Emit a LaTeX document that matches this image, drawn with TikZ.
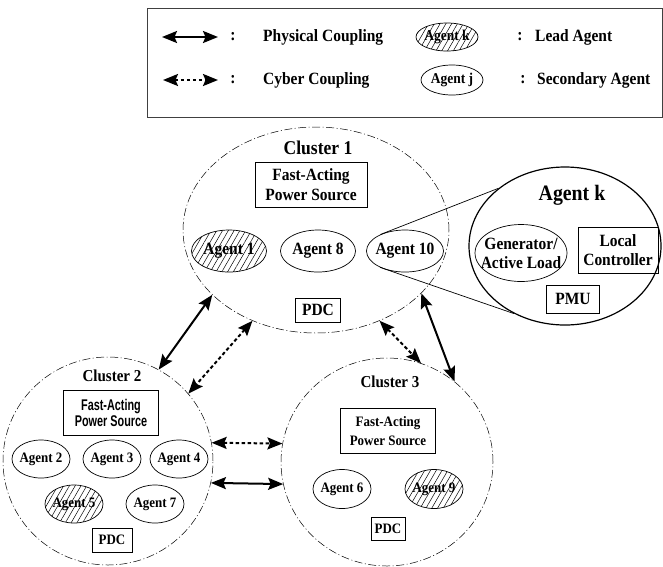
\documentclass[tikz,border=0pt]{standalone}
\usepackage{fontspec}
\setmainfont{Liberation Serif}[FakeStretch=0.9]
\newfontfamily\arialfont{Liberation Sans}[FakeStretch=0.7]
\usepackage{tikz}
\usetikzlibrary{shapes.geometric,patterns.meta,arrows.meta}
\newcommand{\bigtxt}{\fontsize{17.2}{20}\selectfont\bfseries}
\newcommand{\smalltxt}{\fontsize{14.4}{19}\selectfont\bfseries}
\newcommand{\legtxt}{\fontsize{15}{16}\selectfont\bfseries}
\tikzset{hatched/.style = {pattern={Lines[angle=60,distance=5pt,line width=0.5pt]}}}

\begin{document}
\begin{tikzpicture}[x=1pt,y=-1pt,
  cluster/.style={ellipse,draw,line width=0.5pt,dash pattern=on 8pt off 2.5pt on 1pt off 2.5pt,inner sep=0pt},
  agent/.style={ellipse,draw,line width=0.7pt,inner xsep=-4pt,inner ysep=0pt,minimum width=75pt,minimum height=42pt,font=\bigtxt},
  smallagent/.style={agent,minimum width=58pt,minimum height=38pt,font=\smalltxt},
  box/.style={draw,line width=0.7pt,inner sep=0pt,align=center},
  phys/.style={line width=2pt,{Stealth[length=15pt,width=12pt,inset=2.5pt]}-{Stealth[length=15pt,width=12pt,inset=2.5pt]}},
  cyber/.style={phys,dash pattern=on 3.5pt off 2.5pt}]
  \useasboundingbox (0,0) rectangle (663,566);

  % legend
  \draw[line width=1pt,black!75] (147,8) rectangle (662,117);
  \coordinate (p1) at (162,37);
  \coordinate (p2) at (218,37);
  \coordinate (q1) at (163,80);
  \coordinate (q2) at (218,80);
  \path[phys] (p1) edge (p2);
  \path[cyber] (q1) edge (q2);
  \node[font=\bigtxt] at (233,37) {:};
  \node[font=\bigtxt] at (233,80) {:};
  \node[font=\bigtxt,anchor=west,inner sep=0pt] at (263,37) {Physical Coupling};
  \node[font=\bigtxt,anchor=west,inner sep=0pt] at (263,80) {Cyber Coupling};
  \node[agent,hatched,minimum width=62pt,minimum height=28pt,font=\legtxt] (legk) at (447,37) {Agent k};
  \node[agent,minimum width=62pt,minimum height=30pt,font=\legtxt] (legj) at (452,80) {Agent j};
  \node[font=\bigtxt] at (520,37) {:};
  \node[font=\bigtxt] at (523,80) {:};
  \node[font=\bigtxt,anchor=west,inner sep=0pt] at (535,37) {Lead Agent};
  \node[font=\bigtxt,anchor=west,inner sep=0pt] at (537,80) {Secondary Agent};

  % cluster 1
  \node[cluster,minimum width=266pt,minimum height=206pt] (c1) at (316,230) {};
  \node[font=\fontsize{19.5}{22}\selectfont\bfseries] at (318,148) {Cluster 1};
  \node[box,font=\bigtxt,minimum width=112pt,minimum height=45pt] (fa1) at (311,185) {Fast-Acting\\Power Source};
  \node[agent,hatched] (a1) at (229,251) {Agent 1};
  \node[agent] (a8) at (318,251) {Agent 8};
  \node[agent,minimum width=77pt] (a10) at (405,251) {Agent 10};
  \node[box,font=\bigtxt,minimum width=45pt,minimum height=24pt] (pdc1) at (318,310) {PDC};

  % agent k detail
  \node[ellipse,draw,line width=1.2pt,inner sep=0pt,minimum width=192pt,minimum height=158pt] (ak) at (565,246) {};
  \node[font=\fontsize{22}{24}\selectfont\bfseries] at (572,195) {Agent k};
  \node[agent,inner xsep=-12pt,minimum width=92pt,minimum height=57pt,align=center,font=\fontsize{17.2}{19}\selectfont\bfseries] (gen) at (521,253) {Generator/\\Active Load};
  \node[box,font=\fontsize{17.2}{19}\selectfont\bfseries,minimum width=80pt,minimum height=46pt] (lc) at (618,250) {Local\\Controller};
  \node[box,font=\bigtxt,minimum width=53pt,minimum height=28pt] (pmu) at (573,299) {PMU};
  \draw[line width=0.7pt] (a10.146) -- (ak.139);
  \draw[line width=0.7pt] (a10.213) -- (ak.233);

  % cluster 2
  \node[cluster,minimum width=210pt,minimum height=208pt] (c2) at (108,461) {};
  \node[font=\fontsize{16.7}{18}\selectfont\bfseries] at (112,376) {Cluster 2};
  \node[box,font=\fontsize{15.5}{16}\selectfont\bfseries\arialfont,minimum width=95pt,minimum height=45pt] (fa2) at (111,413) {Fast-Acting\\Power Source};
  \node[smallagent] (a2) at (41,459) {Agent 2};
  \node[smallagent] (a3) at (112,459) {Agent 3};
  \node[smallagent] (a4) at (179,459) {Agent 4};
  \node[smallagent,hatched] (a5) at (74,504) {Agent 5};
  \node[smallagent] (a7) at (155,504) {Agent 7};
  \node[box,font=\smalltxt,minimum width=40pt,minimum height=24pt] (pdc2) at (112,540) {PDC};

  % cluster 3
  \node[cluster,minimum width=212pt,minimum height=208pt] (c3) at (387,462) {};
  \node[font=\fontsize{16.7}{18}\selectfont\bfseries] at (390,382) {Cluster 3};
  \node[box,font=\smalltxt,minimum width=95pt,minimum height=45pt] (fa3) at (388,431) {Fast-Acting\\Power Source};
  \node[smallagent,minimum height=39pt] (a6) at (342,489) {Agent 6};
  \node[smallagent,minimum height=39pt,hatched] (a9) at (434,489) {Agent 9};
  \node[box,font=\smalltxt,minimum width=34pt,minimum height=23pt] (pdc3) at (388,529) {PDC};

  % couplings
  \path[phys] (c1.212) edge (c2.61);
  \path[cyber] (c1.235) edge (c2.40);
  \path[phys] (c1.-31) edge (c3.50);
  \path[cyber] (c1.-55) edge (c3.71);
  \path[cyber] (c2.10) edge (c3.170);
  \path[phys] (c2.-12) edge (c3.-168);
\end{tikzpicture}
\end{document}
